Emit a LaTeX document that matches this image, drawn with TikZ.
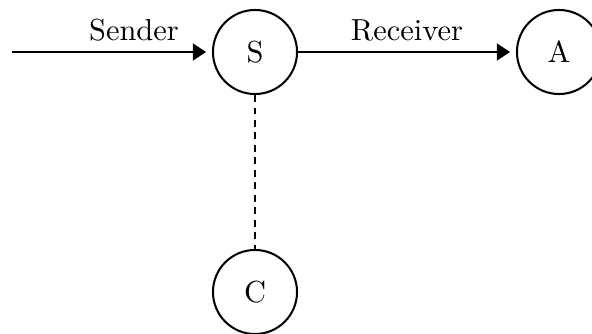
\documentclass[tikz,border=0pt]{standalone}
\usetikzlibrary{arrows.meta}
\begin{document}
\begin{tikzpicture}[x=0.345pt,y=-0.345pt,font=\fontsize{10.5pt}{12.5pt}\selectfont,
  state/.style={circle,draw,line width=0.7pt,minimum size=29pt,inner sep=0pt},
  flow/.style={line width=0.7pt,-{Triangle[length=4.6pt,width=5.8pt]},shorten >=2pt},
  link/.style={line width=0.75pt,dash pattern=on 2.4pt off 1.9pt}]
  \useasboundingbox (0,0) rectangle (592,334);
  \node[state] (S) at (255,52) {S};
  \node[state] (A) at (559,52) {A};
  \node[state] (C) at (255,292) {C};
  \coordinate (in) at (12,52);
  \draw[flow] (in) -- node[pos=0.61,above=0pt] {Sender} (S);
  \draw[flow] (S) -- node[above=0pt] {Receiver} (A);
  \draw[link] (S) -- (C);
\end{tikzpicture}
\end{document}
